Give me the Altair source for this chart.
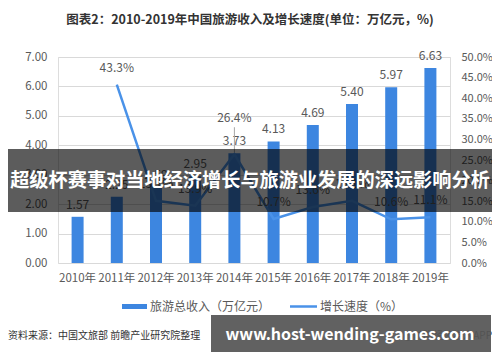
import altair as alt
import pandas as pd

years = ["2010年", "2011年", "2012年", "2013年", "2014年",
         "2015年", "2016年", "2017年", "2018年", "2019年"]
revenue = [1.57, 2.25, 2.59, 2.95, 3.73, 4.13, 4.69, 5.40, 5.97, 6.63]
growth = [None, 43.3, 15.1, 13.9, 26.4, 10.7, 13.6, 15.1, 10.6, 11.1]

left_ticks = [0, 1, 2, 3, 4, 5, 6, 7]
right_ticks = [0, 5, 10, 15, 20, 25, 30, 35, 40, 45, 50]

title_text = "图表2：2010-2019年中国旅游收入及增长速度(单位：万亿元，%)"
legend_bar = "旅游总收入（万亿元）"
legend_line = "增长速度（%）"
source_text = "资料来源：中国文旅部 前瞻产业研究院整理"
app_text = "@前瞻经济学人APP"
banner_text = "超级杯赛事对当地经济增长与旅游业发展的深远影响分析"
footer_text = "www.host-wending-games.com"

df = pd.DataFrame({"year": years, "revenue": revenue, "growth": growth})

BAR = "#3D86E0"
LINE = "#4A92E8"
GREY = "#595959"
FONT = "Noto Sans CJK SC"

x_enc = alt.X("year:N", sort=years,
              scale=alt.Scale(paddingInner=0, paddingOuter=0),
              axis=alt.Axis(title=None, labelAngle=0, domain=False, ticks=False,
                            labelPadding=9, labelFontSize=11.5, labelColor=GREY))

y_left = alt.Y("revenue:Q", scale=alt.Scale(domain=[0, 7]),
               axis=alt.Axis(title=None, values=left_ticks, format=".2f",
                             domain=False, ticks=False, gridColor="#d9d9d9",
                             labelPadding=11, labelFontSize=11.5, labelColor=GREY))

y_right = alt.Y("growth:Q", scale=alt.Scale(domain=[0, 50]),
                axis=alt.Axis(title=None, orient="right", values=right_ticks,
                              labelExpr="format(datum.value, '.1f') + '%'",
                              grid=False, domain=False, ticks=False,
                              labelPadding=11, labelFontSize=11, labelColor=GREY))

base = alt.Chart(df).encode(x=x_enc)

bars = base.mark_bar(size=12, color=BAR).encode(y=y_left)
bar_labels = base.mark_text(baseline="bottom", dy=-5, fontSize=12, color=GREY).encode(
    y=y_left, text=alt.Text("revenue:Q", format=".2f"))
left = alt.layer(bars, bar_labels)

gbase = base.transform_filter("datum.growth != null").transform_calculate(
    label="format(datum.growth, '.1f') + '%'")
line = gbase.mark_line(color=LINE, strokeWidth=2.5).encode(y=y_right)
line_labels = gbase.transform_filter("datum.year != '2014年'").mark_text(
    baseline="bottom", dy=-10, fontSize=12, color=GREY).encode(
    y=y_right, text="label:N")
special = gbase.transform_filter("datum.year == '2014年'")
special_label = special.mark_text(baseline="bottom", dy=-29, fontSize=12, color=GREY).encode(
    y=y_right, text="label:N")
leader = special.mark_rule(color="#a6a6a6", strokeWidth=1, yOffset=-2, y2Offset=-27).encode(
    y=y_right, y2="growth:Q")
right = alt.layer(line, line_labels, special_label, leader)

one = alt.Data(values=[{"a": 1}])


def txt(text, x, y, **kw):
    return alt.Chart(one).mark_text(text=text, **kw).encode(
        x=alt.value(x), y=alt.value(y))


def box(x1, x2, y1, y2, **kw):
    return alt.Chart(one).mark_rect(**kw).encode(
        x=alt.value(x1), x2=alt.value(x2), y=alt.value(y1), y2=alt.value(y2))


title = txt(title_text, 192, -37, fontSize=12.5, fontWeight="bold", color="#333333",
            align="center", baseline="middle")

leg_bar_sw = box(64, 89, 247, 252, color=BAR)
leg_bar_tx = txt(legend_bar, 92, 249.5, fontSize=12, color=GREY, align="left", baseline="middle")
leg_line_sw = alt.Chart(one).mark_rule(color=LINE, strokeWidth=2.5).encode(
    x=alt.value(232), x2=alt.value(259), y=alt.value(249.5))
leg_line_tx = txt(legend_line, 262, 249.5, fontSize=12, color=GREY, align="left", baseline="middle")

src = txt(source_text, -50, 279, fontSize=10, color="#333333", align="left", baseline="middle")
app = txt(app_text, 434, 279, fontSize=10, color="#333333", align="right", baseline="middle")

banner_bg = box(-60, 444, 92, 155, color="#000000", opacity=0.64)
banner_tx = txt(banner_text, 192, 124, fontSize=19.2, fontWeight="bold", color="#ffffff",
                align="center", baseline="middle")

footer_bg = box(153, 433, 258, 295, color="#555555", opacity=0.93)
footer_tx = txt(footer_text, 292, 277.5, fontSize=16, fontWeight="bold", color="#ffffff",
                align="center", baseline="middle")

chart = alt.layer(
    left, right, title, leg_bar_sw, leg_bar_tx, leg_line_sw, leg_line_tx, src, app,
    banner_bg, banner_tx, footer_bg, footer_tx
).resolve_scale(y="independent").properties(
    width=392, height=206,
    padding={"left": 50, "top": 49, "right": 42, "bottom": 91},
    autosize=alt.AutoSizeParams(type="none"),
    background="#ffffff",
).configure_view(stroke=None).configure(font=FONT)

chart.save("out.html", embed_options={"renderer": "svg", "actions": False})
